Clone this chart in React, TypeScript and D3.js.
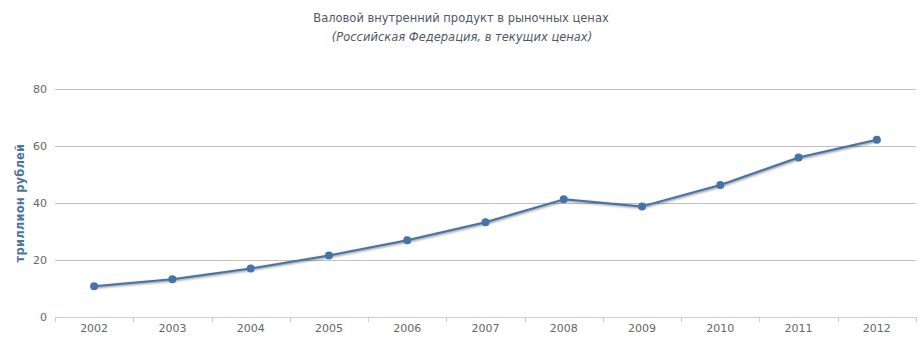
import React from "react";
import * as d3 from "d3";

const years = ["2002","2003","2004","2005","2006","2007","2008","2009","2010","2011","2012"];
const gdp = [10.83, 13.21, 17.03, 21.61, 26.92, 33.25, 41.28, 38.81, 46.31, 55.97, 62.2];
const yTicks = [0, 20, 40, 60, 80];
const title = "Валовой внутренний продукт в рыночных ценах";
const subtitle = "(Российская Федерация, в текущих ценах)";
const yTitle = "триллион рублей";

export default function App() {
  const W = 924, H = 361;
  const left = 55, right = 916, top = 89, bottom = 317;
  const x = d3.scaleBand<string>().domain(years).range([left, right]);
  const y = d3.scaleLinear().domain([0, 80]).range([bottom, top]);
  const cx = (d: string) => (x(d) as number) + x.bandwidth() / 2;
  const pts: [number, number][] = years.map((d, i) => [cx(d), y(gdp[i])]);
  const line = d3.line<[number, number]>()(pts) as string;
  const font = "'DejaVu Sans', Verdana, sans-serif";
  const boundaries = years.map((d) => x(d) as number).concat([right]);
  return (
    <svg width={W} height={H} style={{ position: "absolute", left: 0, top: 0, fontFamily: font }}>
      <rect width={W} height={H} fill="#fff" />
      <text x={461} y={22} textAnchor="middle" fontSize={11.5} fill="#4d5966">{title}</text>
      <text x={462} y={41} textAnchor="middle" fontSize={11.5} fontStyle="italic" fill="#4d5966">{subtitle}</text>
      {yTicks.map((t) => (
        <g key={t}>
          {t !== 0 && <line x1={left} x2={right} y1={y(t) + 0.5} y2={y(t) + 0.5} stroke="#c0c0c0" strokeWidth={1} />}
          <text x={47} y={y(t) + 4} textAnchor="end" fontSize={11} fill="#666">{t}</text>
        </g>
      ))}
      <line x1={left} x2={right} y1={bottom + 0.5} y2={bottom + 0.5} stroke="#c0d0e0" strokeWidth={1} />
      {boundaries.map((b, i) => (
        <line key={i} x1={Math.round(b) + 0.5} x2={Math.round(b) + 0.5} y1={bottom} y2={bottom + 5} stroke="#c0d0e0" strokeWidth={1} />
      ))}
      {years.map((d) => (
        <text key={d} x={cx(d)} y={332} textAnchor="middle" fontSize={11} fill="#666">{d}</text>
      ))}
      <text transform={`translate(24, ${(top + bottom) / 2}) rotate(-90)`} textAnchor="middle" fontSize={11.5} fontWeight="bold" fill="#4d759e" letterSpacing={0.2}>{yTitle}</text>
      <g transform="translate(1,1)" fill="none" strokeLinejoin="round" strokeLinecap="round">
        <path d={line} stroke="#000" strokeOpacity={0.05} strokeWidth={6} />
        <path d={line} stroke="#000" strokeOpacity={0.1} strokeWidth={4} />
        <path d={line} stroke="#000" strokeOpacity={0.15} strokeWidth={2} />
      </g>
      <path d={line} fill="none" stroke="#4572a7" strokeWidth={2} strokeLinejoin="round" />
      {pts.map((p, i) => (
        <circle key={i} cx={p[0]} cy={p[1]} r={4} fill="#4572a7" />
      ))}
    </svg>
  );
}
